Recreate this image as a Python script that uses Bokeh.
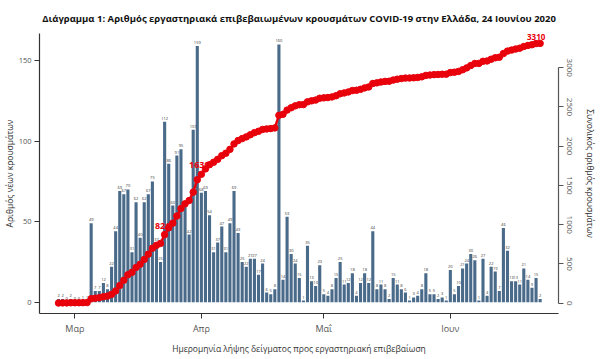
import numpy as np
import pandas as pd
from bokeh.plotting import figure
from bokeh.models import ColumnDataSource, LinearAxis, Range1d, FixedTicker
from bokeh.embed import file_html
from bokeh.resources import INLINE
from bokeh.core.properties import value

# ---------------- data ----------------
start_date = "2020-02-26"
new_cases = [
    2, 2, 0, 2, 0, 0, 1, 1,
    49, 7, 7, 12, 8, 22, 44, 69, 67, 70, 31, 62, 40, 62, 67, 75, 37, 25, 112,
    86, 60, 91, 95, 60, 42, 107, 159,
    68, 69, 54, 31, 37, 47, 31, 49, 69, 43, 25, 22, 27, 27, 17, 24, 6, 5, 8,
    160,
    14, 53, 30, 24, 15, 1, 35, 13, 10, 23, 5, 4, 8, 15, 25, 11, 12, 18, 4, 12,
    18, 12, 44, 8, 11, 8, 2, 15, 11, 8, 6, 1, 3, 4,
    8, 18, 5, 5, 2, 3, 1, 20, 5, 10, 21, 24, 30, 26, 1, 27, 4, 22, 19, 7, 46,
    32, 13, 13, 11, 21, 14, 9, 15, 2,
]
month_starts = ["2020-03-01", "2020-04-01", "2020-05-01", "2020-06-01"]
month_labels = ["Μαρ", "Απρ", "Μαΐ", "Ιουν"]
left_ticks = [0, 50, 100, 150]
right_ticks = [0, 500, 1000, 1500, 2000, 2500, 3000]
cum_label_dates = ["2020-03-23", "2020-04-01"]
cum_label_texts = ["821", "1639"]
final_label = "3310"

title_text = ("Διάγραμμα 1: Αριθμός εργαστηριακά επιβεβαιωμένων κρουσμάτων "
              "COVID-19 στην Ελλάδα, 24 Ιουνίου 2020")
y_left_title = "Αριθμός νέων κρουσμάτων"
y_right_title = "Συνολικός αριθμός κρουσμάτων"
x_title = "Ημερομηνία λήψης δείγματος προς εργαστηριακή επιβεβαίωση"

# ---------------- derived ----------------
dates = pd.date_range(start_date, periods=len(new_cases), freq="D")
day = np.arange(len(new_cases))
cum = np.cumsum(new_cases)
tick_idx = [int((pd.Timestamp(m) - dates[0]).days) for m in month_starts]
lab_idx = [int((pd.Timestamp(d) - dates[0]).days) for d in cum_label_dates]

src = ColumnDataSource(dict(x=day, y=new_cases, lab=[str(v) for v in new_cases], cum=cum))

FONT = "Open Sans"
BAR = "#4a6a8a"
RED = "#e8000b"

p = figure(frame_width=519, frame_height=280,
           x_range=Range1d(-4.66, 122.5), y_range=Range1d(-7.0, 166.8),
           output_backend="svg", toolbar_location=None,
           min_border_left=33, min_border_right=41,
           min_border_top=25, min_border_bottom=38)
p.extra_y_ranges = {"cum": Range1d(-131, 3436)}

p.title.text = title_text
p.title.align = "center"
p.title.text_font = FONT
p.title.text_font_size = "9.5px"
p.title.text_font_style = "bold"
p.title.text_color = "#111111"
p.title.standoff = 18

p.xgrid.visible = False
p.ygrid.visible = False
p.outline_line_color = None
p.background_fill_color = "white"
p.border_fill_color = "white"

# bars + labels
p.vbar(x="x", top="y", width=0.76, bottom=0, source=src, fill_color=BAR, line_color=None)
p.text(x="x", y="y", text="lab", source=src, text_font=value(FONT), text_font_size="4px",
       text_align="center", text_baseline="bottom", y_offset=-2, text_color="#333333")

# cumulative labels (drawn below the points)
p.text(x=lab_idx, y=[cum[i] for i in lab_idx], text=cum_label_texts,
       y_range_name="cum", text_font=value(FONT), text_font_size="9px",
       text_font_style="bold", text_color=RED, text_align="center",
       text_baseline="bottom", x_offset=-2, y_offset=-6)
p.text(x=[day[-1]], y=[cum[-1]], text=[final_label], y_range_name="cum",
       text_font=value(FONT), text_font_size="8px", text_font_style="bold",
       text_color=RED, text_align="center", text_baseline="bottom",
       x_offset=-4, y_offset=-3)

# cumulative line
p.line(x="x", y="cum", source=src, y_range_name="cum", line_color=RED, line_width=2.5)
p.scatter(x="x", y="cum", source=src, y_range_name="cum", size=6.5,
          fill_color=RED, line_color=RED)

# axes
def style(ax, fs="8px"):
    ax.axis_line_color = "#333333"
    ax.axis_line_width = 1.2
    ax.major_tick_line_color = "#333333"
    ax.major_tick_out = 5
    ax.major_tick_in = 0
    ax.minor_tick_line_color = None
    ax.major_label_text_font = FONT
    ax.major_label_text_font_size = fs
    ax.major_label_text_color = "#555555"
    ax.axis_label_text_font = FONT
    ax.axis_label_text_font_style = "normal"
    ax.axis_label_text_font_size = "8.5px"
    ax.axis_label_text_color = "#333333"

ly = p.yaxis[0]
style(ly, "7.5px")
ly.ticker = FixedTicker(ticks=left_ticks)
ly.axis_label = y_left_title
ly.axis_label_standoff = 1
ly.major_label_standoff = 3

bx = p.xaxis[0]
style(bx, "9px")
bx.ticker = FixedTicker(ticks=tick_idx)
bx.major_label_overrides = {t: l for t, l in zip(tick_idx, month_labels)}
bx.major_label_standoff = 3
bx.axis_label = x_title
bx.axis_label_standoff = 5

ry = LinearAxis(y_range_name="cum")
style(ry)
ry.axis_line_color = "#555555"
ry.major_tick_line_color = "#555555"
ry.ticker = FixedTicker(ticks=right_ticks)
ry.bounds = (0, 3000)
ry.major_label_orientation = "vertical"
ry.major_label_standoff = 3
ry.axis_label = y_right_title
ry.axis_label_standoff = 10
p.add_layout(ry, "right")

open("out.html", "w").write(file_html(p, INLINE))
